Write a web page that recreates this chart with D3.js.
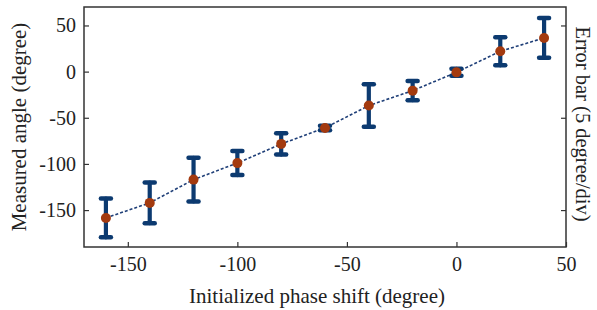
<!DOCTYPE html>
<html>
<head>
<meta charset="utf-8">
<script src="https://cdn.jsdelivr.net/npm/d3@7"></script>
<style>
  body { margin: 0; background: #fff; }
  text { font-family: "Liberation Serif", "Times New Roman", serif; }
</style>
</head>
<body>
<div id="drawing"></div>
<script>
// phase shift setpoints (degree)
var phaseShift = [-160, -140, -120, -100, -80, -60, -40, -20, 0, 20, 40];
// measured angle (degree)
var measured = [-158.5, -142.2, -117, -99.1, -78.3, -61, -36.8, -20.6, -0.8, 22, 36.5];
// error bar half length (degree, on the 5 degree/div right axis)
var errHalf = [1.05, 1.10, 1.18, 0.65, 0.58, 0.12, 1.15, 0.52, 0.19, 0.76, 1.08];

var xTicks = [-150, -100, -50, 0, 50];
var yTicks = [-150, -100, -50, 0, 50];
var errTicks = [-5, 0, 5];

var width = 597;
var height = 310;
var margin = {top: 7, right: 31, bottom: 63, left: 84};
var innerW = width - margin.left - margin.right;
var innerH = height - margin.top - margin.bottom;

var svg = d3.select("#drawing").append("svg")
  .attr("width", width)
  .attr("height", height);

var g = svg.append("g")
  .attr("transform", `translate(${margin.left},${margin.top})`);

var xScale = d3.scaleLinear().domain([-170, 50]).range([0, innerW]);
var yScale = d3.scaleLinear().domain([-190, 70]).range([innerH, 0]);
// right axis: 5 degree per division
var errScale = d3.scaleLinear().domain([-7, 6]).range([innerH, 0]);

var data = phaseShift.map(function(d, i) {
  return {x: d, y: measured[i], e: errHalf[i]};
});

// plain hyphen for negative numbers, like the original
var fmt = function(d) { return String(d); };

// axes, ticks pointing inward
var xAxis = g.append("g")
  .attr("transform", `translate(0,${innerH})`)
  .call(d3.axisBottom(xScale).tickValues(xTicks).tickFormat(fmt).tickSizeInner(-5).tickSizeOuter(0).tickPadding(10));

var yAxis = g.append("g")
  .call(d3.axisLeft(yScale).tickValues(yTicks).tickFormat(fmt).tickSizeInner(-5).tickSizeOuter(0).tickPadding(8));

var rAxis = g.append("g")
  .attr("transform", `translate(${innerW},0)`)
  .call(d3.axisRight(errScale).tickValues(errTicks).tickFormat("").tickSizeInner(-5).tickSizeOuter(0));

[xAxis, yAxis, rAxis].forEach(function(a) {
  a.select(".domain").remove();
  a.selectAll(".tick line").attr("stroke", "#333").attr("stroke-width", 1.2);
  a.selectAll(".tick text")
    .attr("font-size", 20)
    .attr("fill", "#222")
    .attr("font-family", "Liberation Serif, serif");
});

g.append("rect")
  .attr("width", innerW)
  .attr("height", innerH)
  .attr("fill", "none")
  .attr("stroke", "#333")
  .attr("stroke-width", 1.5);

// dotted connecting line
var lineGen = d3.line()
  .x(function(d) { return xScale(d.x); })
  .y(function(d) { return yScale(d.y); });

g.append("path")
  .attr("d", lineGen(data))
  .attr("fill", "none")
  .attr("stroke", "#1f3f78")
  .attr("stroke-width", 1.6)
  .attr("stroke-dasharray", "3,2");

// error bars: length from right axis scale, centred on the measured point
var pxPerDeg = errScale(0) - errScale(1);
var bars = g.selectAll(".ebar")
  .data(data)
  .enter().append("g")
  .attr("class", "ebar")
  .attr("stroke", "#0c3a70")
  .attr("stroke-linecap", "round");

bars.append("line")
  .attr("x1", function(d) { return xScale(d.x); })
  .attr("x2", function(d) { return xScale(d.x); })
  .attr("y1", function(d) { return yScale(d.y) - d.e * pxPerDeg; })
  .attr("y2", function(d) { return yScale(d.y) + d.e * pxPerDeg; })
  .attr("stroke-width", 4.2);

[-1, 1].forEach(function(s) {
  bars.append("line")
    .attr("x1", function(d) { return xScale(d.x) - 5; })
    .attr("x2", function(d) { return xScale(d.x) + 5; })
    .attr("y1", function(d) { return yScale(d.y) + s * d.e * pxPerDeg; })
    .attr("y2", function(d) { return yScale(d.y) + s * d.e * pxPerDeg; })
    .attr("stroke-width", 4.5);
});

g.selectAll(".pt")
  .data(data)
  .enter().append("circle")
  .attr("class", "pt")
  .attr("cx", function(d) { return xScale(d.x); })
  .attr("cy", function(d) { return yScale(d.y); })
  .attr("r", 5)
  .attr("fill", "#a33a0f");

// titles
svg.append("text")
  .attr("x", margin.left + innerW / 2 - 8)
  .attr("y", 303)
  .attr("text-anchor", "middle")
  .attr("font-size", 21)
  .attr("fill", "#222")
  .text("Initialized phase shift (degree)");

svg.append("text")
  .attr("transform", `translate(26,${margin.top + innerH / 2}) rotate(-90)`)
  .attr("text-anchor", "middle")
  .attr("font-size", 21)
  .attr("fill", "#222")
  .text("Measured angle (degree)");

svg.append("text")
  .attr("transform", `translate(576,${margin.top + innerH / 2 - 3}) rotate(90)`)
  .attr("text-anchor", "middle")
  .attr("font-size", 20.5)
  .attr("fill", "#222")
  .text("Error bar (5 degree/div)");
</script>
</body>
</html>
